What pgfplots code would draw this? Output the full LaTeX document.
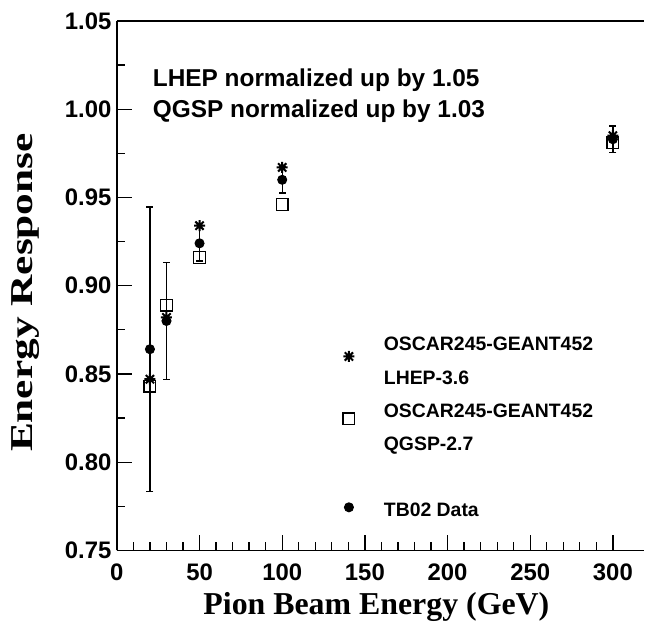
\documentclass[border=0pt]{standalone}
\usepackage{pgfplots}
\pgfplotsset{compat=1.18}
\usepackage{fontspec}
\setmainfont{Liberation Serif}
\setsansfont{Liberation Sans}
\usepackage{graphicx}
\pgfdeclareplotmark{ast8}{%
  \pgfpathmoveto{\pgfqpoint{-\pgfplotmarksize}{0pt}}\pgfpathlineto{\pgfqpoint{\pgfplotmarksize}{0pt}}%
  \pgfpathmoveto{\pgfqpoint{0pt}{-\pgfplotmarksize}}\pgfpathlineto{\pgfqpoint{0pt}{\pgfplotmarksize}}%
  \pgfpathmoveto{\pgfqpoint{-0.75\pgfplotmarksize}{-0.75\pgfplotmarksize}}\pgfpathlineto{\pgfqpoint{0.75\pgfplotmarksize}{0.75\pgfplotmarksize}}%
  \pgfpathmoveto{\pgfqpoint{-0.75\pgfplotmarksize}{0.75\pgfplotmarksize}}\pgfpathlineto{\pgfqpoint{0.75\pgfplotmarksize}{-0.75\pgfplotmarksize}}%
  \pgfusepathqstroke}
\pgfplotsset{legimg/.style={legend image code/.code={\path (0bp,0bp) (34bp,0bp); \draw[##1] plot coordinates {(0bp,#1)};}}}
\begin{document}
\begin{tikzpicture}
\begin{axis}[
  name=ax,
  scale only axis, width=528bp, height=530bp,
  xmin=0, xmax=319, ymin=0.75, ymax=1.05,
  axis x line*=box, axis y line*=left,
  axis line style={line width=1.4bp},
  xtick pos=bottom, ytick pos=left, tick align=inside,
  xtick={0,50,100,150,200,250,300},
  ytick={0.75,0.80,0.85,0.90,0.95,1.00,1.05},
  minor x tick num=4, minor y tick num=1,
  major tick length=15bp, minor tick length=8bp,
  tick style={line width=1.3bp, black},
  /pgf/number format/assume math mode=true,
  yticklabel style={xshift=-2bp, /pgf/number format/.cd, fixed, fixed zerofill, precision=2},
  xticklabel style={yshift=-10bp},
  ticklabel style={font=\fontsize{24}{28}\selectfont\sffamily\bfseries},
  xlabel={Pion Beam Energy (GeV)},
  ylabel={\scalebox{1.36}[1]{Energy Response}},
  label style={font=\fontsize{32}{36}\selectfont\rmfamily\bfseries},
  xlabel style={at={(axis description cs:0.492,0)}, anchor=base, yshift=-64bp},
  ylabel style={at={(axis description cs:-0.174,0.487)}, anchor=center},
  legend cell align=left,
  legend style={draw=none, fill=none, inner sep=0pt, outer sep=0pt,
    at={(axis description cs:0.429,0.421)}, anchor=north west,
    column sep=0pt, row sep=0pt,
    nodes={inner sep=0pt, text height=23bp, text depth=10bp},
    font=\fontsize{19.5}{33}\selectfont\sffamily\bfseries},
]
\addplot[only marks, mark=ast8, mark size=5.5bp, line width=2bp, legimg=-12.5bp] coordinates {
  (20,0.847) (30,0.882) (50,0.934) (100,0.967) (300,0.985)};
\addlegendentry{OSCAR245-GEANT452}
\addlegendimage{empty legend}
\addlegendentry{LHEP-3.6}
\addplot[only marks, mark=square, mark size=5.8bp, line width=1.4bp, legimg=-7.5bp] coordinates {
  (20,0.843) (30,0.889) (50,0.916) (100,0.946) (300,0.981)};
\addlegendentry{OSCAR245-GEANT452}
\addlegendimage{empty legend}
\addlegendentry{QGSP-2.7}
\addlegendimage{empty legend}
\addlegendentry{}
\addplot[only marks, mark=*, mark size=4.5bp, line width=1bp, legimg=3bp,
  error bars/.cd, y dir=both, y explicit,
  error mark options={rotate=90, mark size=3.5bp, line width=1.3bp},
  error bar style={line width=1.4bp}] coordinates {
  (20,0.864) +- (0,0.0805)
  (30,0.880) +- (0,0.033)
  (50,0.924) +- (0,0.010)
  (100,0.960) +- (0,0.0075)
  (300,0.983) +- (0,0.0075)};
\addlegendentry{TB02 Data}
\node[anchor=base west, align=left, font=\fontsize{24.5}{32}\selectfont\sffamily\bfseries, inner sep=0pt]
  at (axis description cs:0.068,0.817) {LHEP normalized up by 1.05\\QGSP normalized up by 1.03};
\end{axis}
\useasboundingbox ([xshift=-117bp,yshift=-71bp]ax.south west) rectangle ([yshift=21bp]ax.north east);
\end{tikzpicture}
\end{document}
